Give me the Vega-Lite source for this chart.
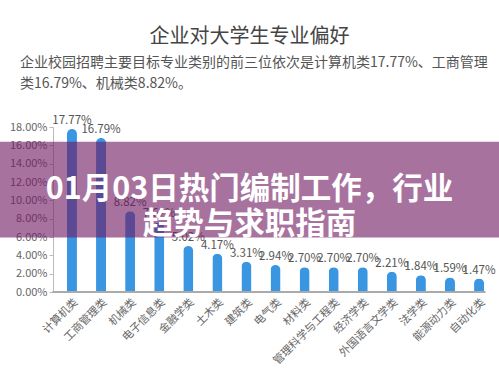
{
  "$schema": "https://vega.github.io/schema/vega-lite/v6.json",
  "padding": {"top": 27, "left": 0, "right": 0, "bottom": 0},
  "background": "white",
  "config": {"font": "Noto Sans CJK SC", "view": {"stroke": null}, "axis": {"labelOverlap": false}, "axisQuantitative": {"labelOverlap": false}},
  "datasets": {
    "majors": [
      {"major": "计算机类", "share": 0.1777},
      {"major": "工商管理类", "share": 0.1679},
      {"major": "机械类", "share": 0.0882},
      {"major": "电子信息类", "share": 0.0762},
      {"major": "金融学类", "share": 0.0502},
      {"major": "土木类", "share": 0.0417},
      {"major": "建筑类", "share": 0.0331},
      {"major": "电气类", "share": 0.0294},
      {"major": "材料类", "share": 0.027},
      {"major": "管理科学与工程类", "share": 0.027},
      {"major": "经济学类", "share": 0.027},
      {"major": "外国语言文学类", "share": 0.0221},
      {"major": "法学类", "share": 0.0184},
      {"major": "能源动力类", "share": 0.0159},
      {"major": "自动化类", "share": 0.0147}
    ],
    "banner": [
      {"headline": "01月03日热门编制工作，行业\n趋势与求职指南"}
    ]
  },
  "title": {"text": "企业对大学生专业偏好", "fontSize": 20, "fontWeight": "normal", "color": "#444444", "anchor": "middle", "offset": 9},
  "vconcat": [
    {
      "title": {
        "text": ["企业校园招聘主要目标专业类别的前三位依次是计算机类17.77%、工商管理", "类16.79%、机械类8.82%。"],
        "fontSize": 14, "fontWeight": "normal", "color": "#555555", "anchor": "start", "frame": "group", "dx": 20, "lineHeight": 21, "offset": 24
      },
      "width": 499,
      "height": 165,
      "layer": [
        {
          "data": {"name": "majors"},
          "mark": {"type": "bar", "color": "#3b96e2", "cornerRadiusTopLeft": 5, "cornerRadiusTopRight": 5},
          "encoding": {
            "x": {
              "field": "major", "type": "nominal", "sort": null,
              "scale": {"range": [53, 498], "paddingInner": 0.656, "paddingOuter": 0.48},
              "axis": {"title": null, "domain": false, "ticks": false, "labelAngle": -45, "labelAlign": "right", "labelBaseline": "top", "labelFontSize": 11, "labelColor": "#666666", "labelPadding": 4}
            },
            "y": {
              "field": "share", "type": "quantitative",
              "scale": {"domain": [0, 0.18], "nice": false},
              "axis": {"title": null, "format": ".2%", "tickCount": 9, "labelOverlap": false, "offset": -53, "grid": false, "domainColor": "#bbbbbb", "tickColor": "#bbbbbb", "tickSize": 4, "labelFontSize": 11, "labelColor": "#666666", "labelPadding": 2}
            }
          }
        },
        {
          "data": {"name": "majors"},
          "mark": {"type": "text", "baseline": "bottom", "dy": -3, "fontSize": 11.5, "color": "#555555"},
          "encoding": {
            "x": {"field": "major", "type": "nominal", "sort": null},
            "y": {"field": "share", "type": "quantitative"},
            "text": {"field": "share", "type": "quantitative", "format": ".2%"}
          }
        },
        {
          "data": {"name": "majors"},
          "mark": {"type": "rule", "color": "#aaaaaa", "strokeWidth": 2},
          "encoding": {
            "x": {"datum": "计算机类", "bandPosition": -1.4},
            "x2": {"datum": "自动化类", "bandPosition": 1.1},
            "y": {"datum": 0}
          }
        },
        {
          "data": {"name": "banner"},
          "mark": {"type": "rect", "color": "#701962", "opacity": 0.61},
          "encoding": {
            "x": {"value": 0},
            "x2": {"value": {"expr": "width"}},
            "y": {"datum": 0.164},
            "y2": {"datum": 0.0595}
          }
        },
        {
          "data": {"name": "banner"},
          "mark": {"type": "text", "lineBreak": "\n", "fontSize": 30.5, "fontWeight": "bold", "color": "white", "align": "center", "baseline": "middle", "lineHeight": 35},
          "encoding": {
            "x": {"value": {"expr": "width/2"}},
            "y": {"datum": 0.111},
            "text": {"field": "headline"}
          }
        }
      ]
    }
  ]
}
